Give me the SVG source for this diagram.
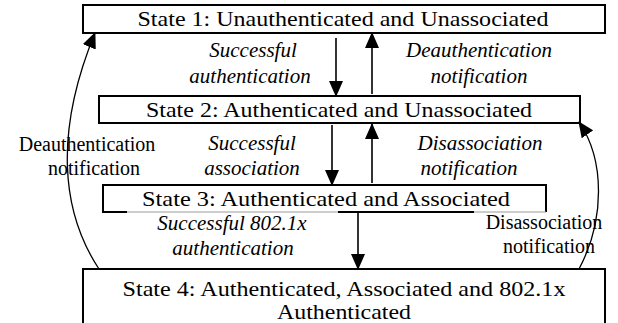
<svg xmlns="http://www.w3.org/2000/svg" width="618" height="323" viewBox="0 0 618 323">
  <style>
    text { font-family: 'Liberation Serif', 'DejaVu Serif', serif; fill: #000; text-anchor: middle; }
    .box { fill: #fff; stroke: #000; stroke-width: 2; }
    .state { font-size: 22px; }
    .lbl { font-size: 21px; font-style: italic; }
    .plain { font-size: 20px; }
    .edge { fill: none; stroke: #000; stroke-width: 1.6; marker-end: url(#head); }
    .curve { fill: none; stroke: #000; stroke-width: 1.3; marker-end: url(#head); }
  </style>
  <defs>
    <marker id="head" markerUnits="userSpaceOnUse" markerWidth="16" markerHeight="14" refX="15" refY="7" orient="auto">
      <path d="M0,0 L16,7 L0,14 z" fill="#000"/>
    </marker>
  </defs>
  <rect width="618" height="323" fill="#fff"/>

  <g id="state1">
    <rect class="box" x="83" y="5" width="522" height="28"/>
    <text class="state" font-family="Liberation Serif, serif" x="343" y="26" textLength="411" lengthAdjust="spacingAndGlyphs">State 1: Unauthenticated and Unassociated</text>
  </g>

  <g id="state2">
    <rect class="box" x="99" y="96" width="481" height="27"/>
    <text class="state" font-family="Liberation Serif, serif" x="339" y="117" textLength="386" lengthAdjust="spacingAndGlyphs">State 2: Authenticated and Unassociated</text>
  </g>

  <g id="state3">
    <path d="M546,212 V185 H103 V212 H127" fill="none" stroke="#000" stroke-width="2"/>
    <path d="M127,212 H338 M474,212 H546" fill="none" stroke="#9a9a9a" stroke-width="1.2"/>
    <path d="M338,212 H474" fill="none" stroke="#000" stroke-width="2"/>
    <text class="state" font-family="Liberation Serif, serif" x="326" y="206" textLength="368" lengthAdjust="spacingAndGlyphs">State 3: Authenticated and Associated</text>
  </g>

  <g id="state4">
    <rect class="box" x="83" y="269" width="522" height="80"/>
    <text class="state" font-family="Liberation Serif, serif" x="344" y="296" textLength="443" lengthAdjust="spacingAndGlyphs">State 4: Authenticated, Associated and 802.1x</text>
    <text class="state" font-family="Liberation Serif, serif" x="344" y="319" textLength="134" lengthAdjust="spacingAndGlyphs">Authenticated</text>
  </g>

  <g id="connectors">
    <line class="edge" x1="336" y1="38" x2="336" y2="96"/>
    <line class="edge" x1="372" y1="94" x2="372" y2="33"/>
    <line class="edge" x1="332" y1="125" x2="332" y2="185"/>
    <line class="edge" x1="372" y1="183" x2="372" y2="124"/>
    <line class="edge" x1="358" y1="213" x2="358" y2="269"/>
    <path class="curve" d="M99,269 C60,210 55,130 95,33"/>
    <path class="curve" d="M579,269 C605,220 605,160 579,122"/>
  </g>

  <g id="labels" font-family="Liberation Serif, serif">
    <text class="lbl" x="253" y="57">Successful</text>
    <text class="lbl" x="250" y="83">authentication</text>
    <text class="lbl" x="479" y="57">Deauthentication</text>
    <text class="lbl" x="479" y="83">notification</text>

    <text class="lbl" x="252" y="150">Successful</text>
    <text class="lbl" x="252" y="175">association</text>
    <text class="lbl" x="480" y="150">Disassociation</text>
    <text class="lbl" x="469" y="175">notification</text>

    <text class="plain" x="87" y="151">Deauthentication</text>
    <text class="plain" x="94" y="175">notification</text>

    <text class="lbl" x="232" y="230">Successful 802.1x</text>
    <text class="lbl" x="233" y="255">authentication</text>

    <text class="plain" x="544" y="229">Disassociation</text>
    <text class="plain" x="549" y="253">notification</text>
  </g>
</svg>
